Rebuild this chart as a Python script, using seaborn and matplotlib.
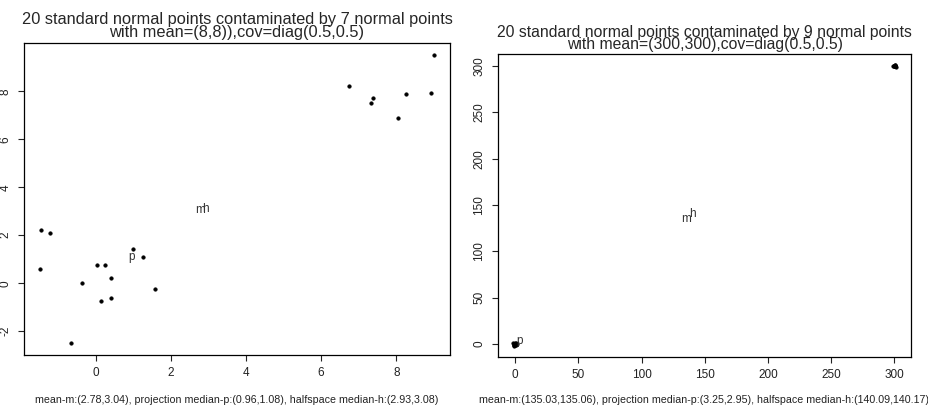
import numpy as np
import pandas as pd
import matplotlib
matplotlib.use("Agg")
import matplotlib.pyplot as plt
import seaborn as sns

# ---------------- data ----------------
# left panel: 13 standard normal points + 7 contaminated points around (8,8)
left_x = [-1.46, -1.22, -1.49, -0.37, 0.04, 0.25, 0.41, 0.13, 0.41, 0.99, 1.25, 1.58, -0.66,
          9.01, 6.75, 7.39, 7.33, 8.27, 8.93, 8.04]
left_y = [2.22, 2.09, 0.61, 0.00, 0.78, 0.75, 0.20, -0.75, -0.63, 1.42, 1.11, -0.24, -2.51,
          9.53, 8.24, 7.74, 7.50, 7.88, 7.91, 6.90]
left_m = (2.78, 3.04)
left_p = (0.96, 1.08)
left_h = (2.93, 3.08)
left_xticks = [0, 2, 4, 6, 8]
left_yticks = [-2, 0, 2, 4, 6, 8]
left_title = "20 standard normal points contaminated by 7 normal points\nwith mean=(8,8)),cov=diag(0.5,0.5)"
left_label = "mean-m:(2.78,3.04), projection median-p:(0.96,1.08), halfspace median-h:(2.93,3.08)"

# right panel: 11 standard normal points + 9 contaminated points around (300,300)
right_x = [-0.6, 0.3, -1.2, 0.8, 0.1, -0.4, 1.1, -0.9, 0.5, -1.5, -0.1,
           299.2, 300.5, 300.9, 299.8, 301.1, 300.3, 299.5, 300.8, 300.4]
right_y = [-1.0, -0.5, -1.8, 0.2, -1.3, 0.4, 0.6, -0.7, 1.2, 1.5, 1.1,
           300.3, 299.6, 300.7, 300.1, 299.4, 300.9, 300.2, 299.8, 300.5]
right_m = (135.03, 135.06)
right_p = (3.25, 2.95)
right_h = (140.09, 140.17)
right_xticks = [0, 50, 100, 150, 200, 250, 300]
right_yticks = [0, 50, 100, 150, 200, 250, 300]
right_title = "20 standard normal points contaminated by 9 normal points\nwith mean=(300,300),cov=diag(0.5,0.5)"
right_label = "mean-m:(135.03,135.06), projection median-p:(3.25,2.95), halfspace median-h:(140.09,140.17)"

# ---------------- style ----------------
sns.set_style("ticks")
plt.rcParams['font.family'] = ['Liberation Sans', 'DejaVu Sans']

fig = plt.figure(figsize=(9.29, 4.09), dpi=100)
axL = fig.add_axes([24 / 929, 1 - 355 / 409, 426 / 929, 312 / 409])
axR = fig.add_axes([498 / 929, 1 - 357 / 409, 413 / 929, 303 / 409])


def draw(ax, xs, ys, m, p, h, xticks, yticks, title, label, title_y, label_y, title_fs):
    df = pd.DataFrame({"x": xs, "y": ys})
    sns.scatterplot(data=df, x="x", y="y", ax=ax, color="black", s=7,
                    edgecolor="black", linewidth=0.3)
    ax.margins(x=0.04, y=0.04)
    for lab, pt in (("m", m), ("h", h), ("p", p)):
        ax.text(pt[0], pt[1], lab, ha="center", va="center", fontsize=8.5, color="#333333")
    ax.set_xticks(xticks)
    ax.set_yticks(yticks)
    ax.set_xticklabels([str(t) for t in xticks], fontsize=8.5, color="#222222")
    ax.set_yticklabels([str(t) for t in yticks], fontsize=8.5, color="#222222",
                       rotation=90, va="center")
    ax.tick_params(axis="both", length=4, width=0.8, color="#222222", pad=5)
    for s in ax.spines.values():
        s.set_visible(True)
        s.set_linewidth(0.9)
        s.set_color("black")
    ax.set_xlabel("")
    ax.set_ylabel("")
    ax.set_title(title, fontsize=title_fs, linespacing=0.8, y=title_y, pad=0)
    ax.text(0.5, label_y, label, transform=ax.transAxes, ha="center", va="center",
            fontsize=7.7, color="#222222")


draw(axL, left_x, left_y, left_m, left_p, left_h, left_xticks, left_yticks,
     left_title, left_label, 1.02, -0.144, 11.8)
draw(axR, right_x, right_y, right_m, right_p, right_h, right_xticks, right_yticks,
     right_title, right_label, 1.015, -0.142, 11.3)

fig.savefig("out.png", dpi=100)
